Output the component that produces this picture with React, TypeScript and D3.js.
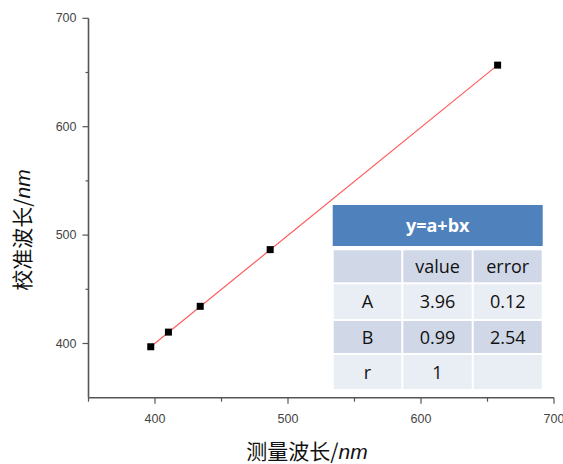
import React from "react";
import * as d3 from "d3";

const measured = [396.8, 410.1, 434.0, 486.6, 657.6];
const calibrated = [397.0, 410.5, 434.3, 486.6, 656.8];
const xTicks = [400, 500, 600, 700];
const xMinor = [350, 450, 550, 650];
const yTicks = [400, 500, 600, 700];
const yMinor = [450, 550, 650];
const tableHeader = ["", "value", "error"];
const tableRows = [
  ["A", "3.96", "0.12"],
  ["B", "0.99", "2.54"],
  ["r", "1", ""],
];

export default function App() {
  const W = 563, H = 464;
  const x = d3.scaleLinear().domain([350, 700]).range([88.5, 554]);
  const y = d3.scaleLinear().domain([350, 700]).range([397.7, 18.3]);
  const line = d3.line<number>().x((d) => x(measured[d])).y((d) => y(calibrated[d]));
  const idx = [0, measured.length - 1];
  const axisColor = "#555";
  const tickFont = "Liberation Sans, Arial, sans-serif";
  const tl = 332.7, tr = 542.7;
  const cols = [tl, 402.3, 472.7, tr];
  const rowsY = [249.3, 283.3, 320, 354, 390];
  const fills = ["#D0D8E8", "#E9EDF4", "#D0D8E8", "#E9EDF4"];
  const allRows = [tableHeader, ...tableRows];
  const tfont = "Open Sans, Liberation Sans, sans-serif";
  return (
    <svg width={W} height={H} style={{ position: "absolute", left: 0, top: 0 }}>
      <rect width={W} height={H} fill="#fff" />
      <line x1={x(350)} x2={x(700)} y1={y(350)} y2={y(350)} stroke={axisColor} strokeWidth={1.6} />
      <line x1={x(350)} x2={x(350)} y1={y(350)} y2={y(700)} stroke={axisColor} strokeWidth={1.6} />
      {xTicks.map((t) => (
        <g key={"xt" + t}>
          <line x1={x(t)} x2={x(t)} y1={y(350)} y2={y(350) + 6} stroke={axisColor} strokeWidth={1.2} />
          <text x={x(t)} y={y(350) + 25} textAnchor="middle" fontSize={12.5} fill="#444" fontFamily={tickFont}>{t}</text>
        </g>
      ))}
      {xMinor.map((t) => (
        <line key={"xm" + t} x1={x(t)} x2={x(t)} y1={y(350)} y2={y(350) + 4} stroke={axisColor} strokeWidth={1.2} />
      ))}
      {yTicks.map((t) => (
        <g key={"yt" + t}>
          <line x1={x(350) - 6} x2={x(350)} y1={y(t)} y2={y(t)} stroke={axisColor} strokeWidth={1.2} />
          <text x={x(350) - 12} y={y(t) + 4} textAnchor="end" fontSize={12.5} fill="#444" fontFamily={tickFont}>{t}</text>
        </g>
      ))}
      {yMinor.map((t) => (
        <line key={"ym" + t} x1={x(350) - 3} x2={x(350)} y1={y(t)} y2={y(t)} stroke={axisColor} strokeWidth={1.2} />
      ))}
      <path d={line(idx) || ""} fill="none" stroke="#ff5a5a" strokeWidth={1.2} />
      {measured.map((m, i) => (
        <rect key={"p" + i} x={x(m) - 3.5} y={y(calibrated[i]) - 3.5} width={7} height={7} fill="#000" />
      ))}
      <text x={307} y={459} textAnchor="middle" fontSize={21} fill="#111" fontFamily="Noto Sans CJK SC, sans-serif">
        测量波长/<tspan fontStyle="italic" fontFamily="Liberation Sans, sans-serif">nm</tspan>
      </text>
      <text transform="translate(30,230) rotate(-90)" textAnchor="middle" fontSize={21} fill="#111" fontFamily="Noto Sans CJK SC, sans-serif">
        校准波长/<tspan fontStyle="italic" fontFamily="Liberation Sans, sans-serif">nm</tspan>
      </text>
      <rect x={tl} y={205} width={tr - tl} height={41} fill="#4F81BD" />
      <text x={(tl + tr) / 2} y={232} textAnchor="middle" fontSize={18} fontWeight="bold" fill="#fff" fontFamily={tfont}>y=a+bx</text>
      {allRows.map((row, ri) =>
        row.map((cell, ci) => (
          <g key={`c${ri}-${ci}`}>
            <rect x={cols[ci] + 1} y={rowsY[ri] + 1} width={cols[ci + 1] - cols[ci] - 2} height={rowsY[ri + 1] - rowsY[ri] - 2} fill={fills[ri]} />
            <text x={(cols[ci] + cols[ci + 1]) / 2} y={(rowsY[ri] + rowsY[ri + 1]) / 2 + 6.5} textAnchor="middle" fontSize={18} fill="#111" fontFamily={tfont}>{cell}</text>
          </g>
        ))
      )}
    </svg>
  );
}
